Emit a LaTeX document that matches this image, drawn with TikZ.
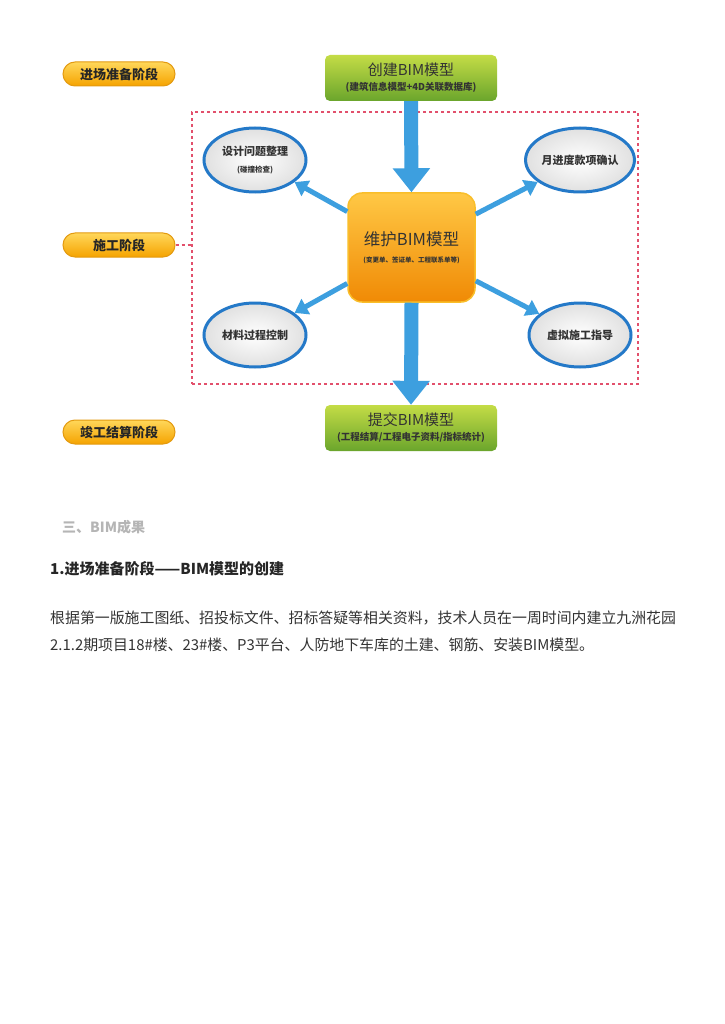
\documentclass[tikz,border=0pt]{standalone}
\usepackage{fontspec}
\setmainfont{Noto Sans CJK SC}
\usepackage{xcolor}
\definecolor{PillTop}{HTML}{FFD75A}
\definecolor{PillBottom}{HTML}{F5A300}
\definecolor{PillEdge}{HTML}{E39A10}
\definecolor{GreenTop}{HTML}{C4DC46}
\definecolor{GreenBottom}{HTML}{6AA52C}
\definecolor{OrangeTop}{HTML}{FFC845}
\definecolor{OrangeBottom}{HTML}{F08A05}
\definecolor{OrangeEdge}{HTML}{F9BE2A}
\definecolor{RimBlue}{HTML}{2479C8}
\definecolor{ArrowBlue}{HTML}{3D9FDF}
\definecolor{FrameRed}{HTML}{E2506C}
\definecolor{TextGray}{HTML}{333333}
\definecolor{HeadGray}{HTML}{B5B5B5}
\usetikzlibrary{arrows.meta,positioning,shapes.geometric}

\begin{document}
\begin{tikzpicture}[x=1pt, y=-1pt, every node/.style={align=center, inner sep=0pt}, pill/.style={draw=PillEdge, line width=1pt, rounded corners=12pt, top color=PillTop, bottom color=PillBottom, minimum width=112pt, minimum height=24pt, font=\fontsize{13}{15}\selectfont\bfseries, text=black!85}, greenbox/.style={rounded corners=5pt, top color=GreenTop, bottom color=GreenBottom, minimum width=172pt, minimum height=46pt, text=black!80}, corebox/.style={draw=OrangeEdge, line width=1.5pt, rounded corners=14pt, top color=OrangeTop, bottom color=OrangeBottom, minimum width=127pt, minimum height=109pt, text=black!80}, oval/.style={ellipse, draw=RimBlue, line width=3pt, inner color=white, outer color=black!12, minimum width=102pt, minimum height=64pt, font=\fontsize{11}{13}\selectfont\bfseries, text=black!80}, zone/.style={draw=FrameRed, line width=1.2pt, dash pattern=on 3pt off 3pt, minimum width=446pt, minimum height=272pt}, bigarrow/.style={ArrowBlue, line width=14pt, -{Triangle[length=24pt,width=36pt]}}, sidearrow/.style={ArrowBlue, line width=5pt, -{Triangle[length=13pt,width=17pt]}}]
  \useasboundingbox[fill=white] (0,0) rectangle (724,1024);

  % stage labels
  \node[pill] (prep) at (119,74) {进场准备阶段};
  \node[pill] (build) at (119,245) {施工阶段};
  \node[pill] (settle) at (119,432) {竣工结算阶段};

  \node[zone] (frame) at (415,248) {};
  \draw[FrameRed, line width=1.2pt, dash pattern=on 3pt off 3pt] (build.east) -- (frame.west |- build.east);

  % model boxes
  \node[greenbox] (create) at (411,78) {{\fontsize{15}{17}\selectfont 创建BIM模型}\\[3pt]{\fontsize{9.5}{11}\selectfont\bfseries (建筑信息模型+4D关联数据库)}};
  \node[corebox] (maint) at (411.5,247.5) {{\fontsize{16.5}{19}\selectfont 维护BIM模型}\\[5pt]{\fontsize{6.5}{8}\selectfont\bfseries (变更单、签证单、工程联系单等)}};
  \node[greenbox] (submit) at (411,428) {{\fontsize{15}{17}\selectfont 提交BIM模型}\\[3pt]{\fontsize{9.5}{11}\selectfont\bfseries (工程结算/工程电子资料/指标统计)}};

  % tasks
  \node[oval] (design) at (255,160) {设计问题整理\\[4pt]{\fontsize{7.5}{9}\selectfont (碰撞检查)}};
  \node[oval] (payment) at (580,160) {月进度款项确认};
  \node[oval] (material) at (255,335) {材料过程控制};
  \node[oval] (virtual) at (580,335) {虚拟施工指导};

  \draw[bigarrow] (create.south) -- (maint.north);
  \draw[bigarrow] (maint.south) -- (submit.north);
  \draw[sidearrow] (maint) -- (design);
  \draw[sidearrow] (maint) -- (payment);
  \draw[sidearrow] (maint) -- (material);
  \draw[sidearrow] (maint) -- (virtual);

  % text below
  \node[anchor=west, font=\fontsize{14}{16}\selectfont\bfseries, text=HeadGray] (result) at (62,527) {三、BIM成果};
  \node[anchor=west, font=\fontsize{15}{17}\selectfont\bfseries, text=black!85] (stage) at (50,569) {1.进场准备阶段——BIM模型的创建};
  \node[anchor=north west, align=left, font=\fontsize{14.9}{27}\selectfont, text=TextGray] (para) at (50,611) {根据第一版施工图纸、招投标文件、招标答疑等相关资料，技术人员在一周时间内建立九洲花园\\2.1.2期项目18\#楼、23\#楼、P3平台、人防地下车库的土建、钢筋、安装BIM模型。};
\end{tikzpicture}
\end{document}
